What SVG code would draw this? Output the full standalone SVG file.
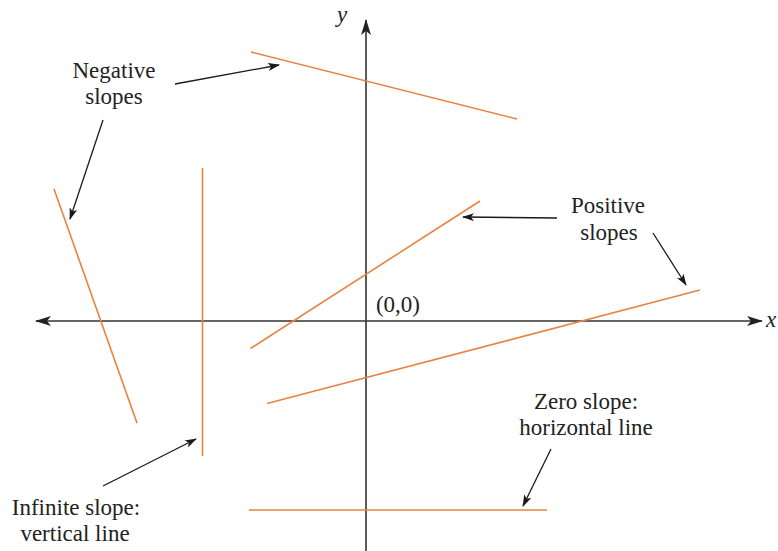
<svg xmlns="http://www.w3.org/2000/svg" width="778" height="551" viewBox="0 0 778 551">
<defs>
<style>
.ax{stroke:#333;stroke-width:1.6;fill:none}
.ln{stroke:#E8833F;stroke-width:1.6;fill:none}
.ar{stroke:#1a1a1a;stroke-width:1.3;fill:none;marker-end:url(#ah)}
.t{font-family:"Liberation Serif","Times New Roman",serif;font-size:23px;fill:#222;text-anchor:middle}
.it{font-family:"Liberation Serif","Times New Roman",serif;font-size:23px;font-style:italic;fill:#222}
</style>
<marker id="ah" viewBox="0 0 12 8" refX="11" refY="4" markerWidth="12" markerHeight="8" markerUnits="userSpaceOnUse" orient="auto">
<path d="M0,0 L12,4 L0,8 L3,4 Z" fill="#1a1a1a"/>
</marker>
<marker id="axh" viewBox="0 0 16 10" refX="15" refY="5" markerWidth="16" markerHeight="10" markerUnits="userSpaceOnUse" orient="auto">
<path d="M0,0 L16,5 L0,10 L4,5 Z" fill="#222"/>
</marker>
</defs>
<rect width="778" height="551" fill="#fff"/>
<g id="axes">
<line class="ax" x1="366" y1="551" x2="366" y2="20" marker-end="url(#axh)"/>
<line class="ax" x1="366" y1="321" x2="762" y2="321" marker-end="url(#axh)"/>
<line class="ax" x1="366" y1="321" x2="36" y2="321" marker-end="url(#axh)"/>
<text class="it" x="337" y="22">y</text>
<text class="it" x="766" y="327">x</text>
<text class="t" x="398" y="312">(0,0)</text>
</g>
<g id="lines">
<line id="neg1" class="ln" x1="251" y1="52" x2="517" y2="119"/>
<line id="neg2" class="ln" x1="54" y1="189" x2="137" y2="423"/>
<line id="vert" class="ln" x1="202.5" y1="168" x2="202.5" y2="456"/>
<line id="pos1" class="ln" x1="250.5" y1="348.5" x2="480" y2="201"/>
<line id="pos2" class="ln" x1="267" y1="403.5" x2="700" y2="290"/>
<line id="horiz" class="ln" x1="249" y1="510" x2="547" y2="510"/>
</g>
<g id="labels">
<g id="negative-label">
<text class="t" x="114" y="78">Negative</text>
<text class="t" x="114" y="104">slopes</text>
</g>
<g id="positive-label">
<text class="t" x="608" y="213">Positive</text>
<text class="t" x="609" y="240">slopes</text>
</g>
<g id="zero-label">
<text class="t" x="586" y="409">Zero slope:</text>
<text class="t" x="586" y="435">horizontal line</text>
</g>
<g id="infinite-label">
<text class="t" x="76" y="515">Infinite slope:</text>
<text class="t" x="75" y="541">vertical line</text>
</g>
</g>
<g id="connectors">
<line class="ar" x1="175" y1="84" x2="279" y2="65"/>
<line class="ar" x1="103" y1="120" x2="70" y2="219"/>
<line class="ar" x1="557" y1="218" x2="463" y2="217"/>
<line class="ar" x1="653" y1="233" x2="686" y2="285"/>
<line class="ar" x1="103" y1="486" x2="196" y2="439"/>
<line class="ar" x1="551" y1="449" x2="523" y2="506"/>
</g>
</svg>
